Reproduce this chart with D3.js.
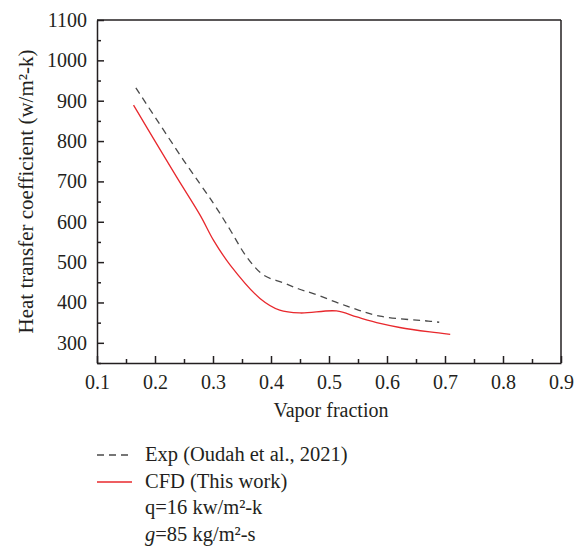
<!DOCTYPE html>
<html><head><meta charset="utf-8">
<script src="https://cdn.jsdelivr.net/npm/d3@7"></script>
<style>body{margin:0;background:#fff}svg{display:block}text{font-family:"Liberation Serif","Times New Roman",serif;fill:#231f20}</style>
</head><body>
<script>
const expX = [0.167, 0.249, 0.301, 0.330, 0.358, 0.387, 0.421, 0.447, 0.473, 0.531, 0.588, 0.671, 0.690];
const expY = [932, 753, 645, 579, 513, 468, 449, 434, 422, 391, 366, 354, 351];
const cfdX = [0.163, 0.200, 0.239, 0.278, 0.301, 0.330, 0.381, 0.415, 0.450, 0.513, 0.548, 0.588, 0.622, 0.674, 0.709];
const cfdY = [889, 800, 707, 616, 554, 492, 410, 381, 374, 379, 364, 348, 338, 327, 321];
const xTicks = [0.1, 0.2, 0.3, 0.4, 0.5, 0.6, 0.7, 0.8, 0.9];
const yTicks = [300, 400, 500, 600, 700, 800, 900, 1000, 1100];
const legendLabels = ["Exp (Oudah et al., 2021)", "CFD (This work)"];

const W = 581, H = 548;
const L = 97, R = 561, T = 20, B = 363;
const svg = d3.select("body").append("svg").attr("width", W).attr("height", H);
const x = d3.scaleLinear().domain([0.1, 0.9]).range([L, R]);
const y = d3.scaleLinear().domain([250, 1100]).range([B, T]);
const axisColor = "#231f20";
const serif = '"Liberation Serif","Times New Roman",serif';

const xMinor = d3.range(0.15, 0.9, 0.1);
const yMinor = d3.range(250, 1100, 100);
const gx = svg.append("g").attr("transform", `translate(0,${B})`);
gx.call(d3.axisBottom(x).tickValues(xTicks).tickFormat(d3.format(".1f")).tickSizeInner(-7).tickSizeOuter(0).tickPadding(12));
gx.append("g").call(d3.axisBottom(x).tickValues(xMinor).tickFormat("").tickSizeInner(-4).tickSizeOuter(0)).select(".domain").remove();
const gy = svg.append("g").attr("transform", `translate(${L},0)`);
gy.call(d3.axisLeft(y).tickValues(yTicks).tickFormat(d3.format("d")).tickSizeInner(-7).tickSizeOuter(0).tickPadding(10));
gy.append("g").call(d3.axisLeft(y).tickValues(yMinor).tickFormat("").tickSizeInner(-4).tickSizeOuter(0)).select(".domain").remove();
svg.selectAll("g").attr("font-family", serif);
svg.selectAll(".tick text").style("font-size", "20px").style("font-family", serif).attr("fill", axisColor);
svg.selectAll(".tick line, .domain").attr("stroke", axisColor).attr("stroke-width", 1.5);

svg.append("line").attr("x1", L).attr("x2", R).attr("y1", T).attr("y2", T).attr("stroke", axisColor).attr("stroke-width", 1.5);
svg.append("line").attr("x1", R).attr("x2", R).attr("y1", T).attr("y2", B).attr("stroke", axisColor).attr("stroke-width", 1.5);

const line = d3.line().x(d => x(d[0])).y(d => y(d[1])).curve(d3.curveCatmullRom.alpha(0.5));
svg.append("path").datum(expX.map((v, i) => [v, expY[i]])).attr("d", line)
  .attr("fill", "none").attr("stroke", "#4a4a4a").attr("stroke-width", 1.3).attr("stroke-dasharray", "7,5");
svg.append("path").datum(cfdX.map((v, i) => [v, cfdY[i]])).attr("d", line)
  .attr("fill", "none").attr("stroke", "#e8282d").attr("stroke-width", 1.3);

svg.append("text").attr("x", (L + R) / 2 + 2).attr("y", 417).attr("text-anchor", "middle").style("font-size", "20px").text("Vapor fraction");
svg.append("text").attr("transform", `translate(33,${(T + B) / 2}) rotate(-90)`).attr("text-anchor", "middle").style("font-size", "21px")
  .text("Heat transfer coefficient (w/m²-k)");

const lg = svg.append("g");
lg.append("line").attr("x1", 97).attr("x2", 132).attr("y1", 455).attr("y2", 455).attr("stroke", "#4a4a4a").attr("stroke-width", 1.3).attr("stroke-dasharray", "7,5");
lg.append("line").attr("x1", 97).attr("x2", 132).attr("y1", 482).attr("y2", 482).attr("stroke", "#e8282d").attr("stroke-width", 1.3);
lg.append("text").attr("x", 145).attr("y", 461).style("font-size", "20.5px").text(legendLabels[0]);
lg.append("text").attr("x", 145).attr("y", 488).style("font-size", "20.5px").text(legendLabels[1]);
lg.append("text").attr("x", 145).attr("y", 514).style("font-size", "20.5px").text("q=16 kw/m²-k");
const t4 = lg.append("text").attr("x", 145).attr("y", 541).style("font-size", "20.5px");
t4.append("tspan").style("font-style", "italic").text("g");
t4.append("tspan").text("=85 kg/m²-s");
</script>
</body></html>
